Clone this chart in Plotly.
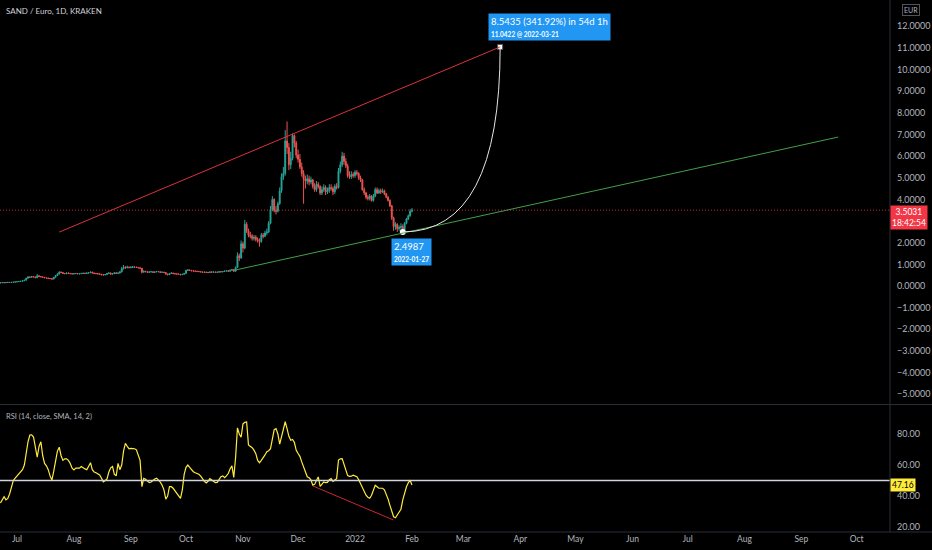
import pandas as pd
import plotly.graph_objects as go

# daily candles SAND / EUR (Kraken), 2021-06-22 .. 2022-02-01
dates = pd.date_range("2021-06-22", "2022-02-01", freq="D")

first_open = 0.15
close = [
    # Jun 22-30
    0.15, 0.16, 0.15, 0.16, 0.17, 0.16, 0.17, 0.18, 0.19,
    # Jul
    0.20, 0.21, 0.22, 0.24, 0.27, 0.36, 0.42, 0.40, 0.44, 0.42, 0.38, 0.47, 0.44, 0.42, 0.40, 0.38,
    0.37, 0.35, 0.34, 0.32, 0.40, 0.48, 0.55, 0.64, 0.62, 0.58, 0.57, 0.60, 0.58, 0.57, 0.56,
    # Aug
    0.57, 0.58, 0.56, 0.57, 0.58, 0.59, 0.58, 0.60, 0.61, 0.64, 0.60, 0.58, 0.57, 0.56, 0.54, 0.52,
    0.51, 0.53, 0.58, 0.60, 0.55, 0.57, 0.61, 0.58, 0.60, 0.65, 0.80, 0.86, 0.84, 0.87, 0.85,
    # Sep
    0.86, 0.88, 0.87, 0.86, 0.84, 0.82, 0.64, 0.68, 0.66, 0.63, 0.65, 0.66, 0.63, 0.65, 0.67,
    0.66, 0.63, 0.64, 0.62, 0.55, 0.52, 0.58, 0.60, 0.57, 0.56, 0.55, 0.54, 0.52, 0.54, 0.58,
    # Oct
    0.72, 0.74, 0.72, 0.70, 0.69, 0.68, 0.67, 0.66, 0.65, 0.63, 0.64, 0.63, 0.62, 0.65, 0.64, 0.65,
    0.63, 0.64, 0.66, 0.65, 0.67, 0.69, 0.70, 0.68, 0.73, 0.76, 0.68, 0.86, 1.40, 1.30, 1.95,
    # Nov
    1.75, 2.85, 2.55, 2.35, 2.30, 2.20, 2.25, 2.15, 2.10, 2.05, 2.35, 2.30, 2.45, 2.50, 2.90,
    3.55, 4.00, 3.50, 3.45, 3.80, 4.40, 5.05, 5.20, 6.70, 6.40, 5.60, 5.90, 6.95, 6.60, 6.05,
    # Dec
    5.85, 5.50, 5.20, 4.95, 4.85, 4.95, 4.80, 4.90, 4.60, 4.45, 4.70, 4.60, 4.30, 4.45, 4.55, 4.35,
    4.40, 4.55, 4.50, 4.35, 4.60, 4.55, 5.30, 5.60, 6.00, 5.75, 5.55, 5.10, 5.05, 5.15, 5.10,
    # Jan
    5.25, 5.20, 5.00, 4.90, 4.45, 4.30, 4.10, 4.05, 4.15, 3.95, 4.15, 4.45, 4.30, 4.40, 4.35, 4.40,
    4.25, 4.10, 3.95, 3.70, 3.15, 2.75, 2.85, 2.65, 2.70, 2.75, 2.60, 2.90, 3.10, 3.25, 3.45,
    # Feb 1
    3.5031,
]
high = [
    0.16, 0.17, 0.17, 0.17, 0.18, 0.18, 0.18, 0.19, 0.20,
    0.21, 0.22, 0.23, 0.25, 0.28, 0.38, 0.45, 0.44, 0.46, 0.45, 0.43, 0.55, 0.49, 0.46, 0.43, 0.41,
    0.39, 0.38, 0.36, 0.35, 0.42, 0.50, 0.58, 0.68, 0.67, 0.64, 0.60, 0.62, 0.62, 0.60, 0.59,
    0.59, 0.60, 0.60, 0.59, 0.60, 0.61, 0.61, 0.62, 0.63, 0.67, 0.66, 0.62, 0.60, 0.59, 0.58, 0.56,
    0.54, 0.55, 0.60, 0.63, 0.62, 0.59, 0.63, 0.63, 0.62, 0.68, 0.88, 0.97, 0.92, 0.94, 0.90,
    0.92, 0.93, 0.91, 0.89, 0.88, 0.86, 0.83, 0.71, 0.70, 0.68, 0.67, 0.68, 0.67, 0.67, 0.69,
    0.69, 0.67, 0.66, 0.65, 0.63, 0.57, 0.60, 0.63, 0.61, 0.59, 0.58, 0.57, 0.56, 0.56, 0.60,
    0.75, 0.78, 0.76, 0.74, 0.72, 0.71, 0.70, 0.69, 0.68, 0.67, 0.66, 0.66, 0.65, 0.67, 0.67, 0.67,
    0.66, 0.66, 0.68, 0.68, 0.69, 0.71, 0.73, 0.72, 0.75, 0.79, 0.77, 0.90, 1.55, 1.50, 2.10,
    2.05, 3.05, 2.95, 2.65, 2.50, 2.40, 2.35, 2.35, 2.25, 2.20, 2.45, 2.45, 2.55, 2.65, 3.00,
    3.70, 4.15, 4.05, 3.70, 3.90, 4.55, 5.20, 5.50, 7.20, 7.60, 6.60, 6.20, 7.05, 7.00, 6.70,
    6.30, 6.10, 5.70, 5.35, 5.10, 5.15, 5.10, 5.05, 4.95, 4.75, 4.85, 4.80, 4.65, 4.60, 4.70, 4.65,
    4.55, 4.70, 4.70, 4.60, 4.70, 4.75, 5.45, 5.75, 6.20, 6.15, 5.90, 5.65, 5.30, 5.30, 5.25,
    5.35, 5.35, 5.25, 5.10, 4.95, 4.55, 4.35, 4.20, 4.25, 4.20, 4.25, 4.55, 4.55, 4.50, 4.50, 4.50,
    4.45, 4.30, 4.15, 4.00, 3.75, 3.20, 2.95, 2.90, 2.80, 2.90, 2.85, 2.95, 3.15, 3.30, 3.55,
    3.60,
]
low = [
    0.14, 0.15, 0.14, 0.15, 0.15, 0.15, 0.16, 0.16, 0.17,
    0.18, 0.19, 0.20, 0.21, 0.23, 0.26, 0.34, 0.38, 0.39, 0.41, 0.37, 0.37, 0.42, 0.41, 0.39, 0.37,
    0.36, 0.34, 0.33, 0.30, 0.31, 0.39, 0.46, 0.53, 0.60, 0.56, 0.55, 0.55, 0.56, 0.55, 0.54,
    0.54, 0.55, 0.55, 0.54, 0.55, 0.56, 0.56, 0.56, 0.58, 0.60, 0.59, 0.57, 0.55, 0.54, 0.52, 0.50,
    0.49, 0.50, 0.52, 0.56, 0.53, 0.53, 0.55, 0.56, 0.56, 0.58, 0.63, 0.76, 0.80, 0.82, 0.82,
    0.82, 0.84, 0.85, 0.84, 0.82, 0.80, 0.58, 0.62, 0.64, 0.61, 0.62, 0.64, 0.61, 0.62, 0.64,
    0.64, 0.61, 0.62, 0.60, 0.53, 0.50, 0.51, 0.56, 0.56, 0.54, 0.53, 0.52, 0.50, 0.51, 0.53,
    0.57, 0.70, 0.71, 0.69, 0.68, 0.67, 0.66, 0.65, 0.64, 0.61, 0.62, 0.61, 0.60, 0.61, 0.62, 0.63,
    0.62, 0.62, 0.63, 0.64, 0.64, 0.66, 0.68, 0.66, 0.67, 0.71, 0.66, 0.67, 0.84, 1.15, 1.25,
    1.55, 1.70, 2.45, 2.25, 2.20, 2.10, 2.10, 2.05, 2.00, 1.82, 2.00, 2.20, 2.25, 2.35, 2.45,
    2.85, 3.45, 3.40, 3.30, 3.40, 3.75, 4.30, 4.90, 5.10, 6.10, 5.35, 5.40, 5.80, 6.40, 5.90,
    5.70, 5.40, 5.05, 3.80, 4.50, 4.70, 4.65, 4.70, 4.50, 4.35, 4.35, 4.50, 4.20, 4.20, 4.35, 4.20,
    4.25, 4.30, 4.40, 4.20, 4.25, 4.45, 4.50, 5.20, 5.50, 5.60, 5.45, 5.00, 4.95, 4.95, 5.00,
    5.00, 5.10, 4.90, 4.80, 4.40, 4.20, 4.00, 3.95, 3.95, 3.90, 3.90, 4.10, 4.25, 4.25, 4.25, 4.30,
    4.20, 4.05, 3.90, 3.65, 3.05, 2.55, 2.60, 2.50, 2.55, 2.60, 2.4987, 2.55, 2.85, 3.05, 3.20,
    3.40,
]
open_ = [first_open] + close[:-1]

# RSI (14, close)
rsi = [
    35.5, 38, 39.5, 37.5, 38.5, 41.5, 45, 50, 51.5,
    53, 54.5, 56, 57, 60, 69, 75, 79.3, 79.5, 78, 70, 65, 72, 75, 66, 61, 59.5, 57, 53, 50.3, 56,
    64, 69, 71.5, 66, 63, 64, 64, 63, 61, 58,
    56.8, 58, 58, 58, 59, 58, 57.5, 57, 59, 61.5, 57, 55.5, 55, 54.2, 53.6, 51.5, 49.2, 50, 51,
    55.5, 58.2, 59, 54, 53, 61, 57, 60, 69, 74, 72, 70.5,
    70.7, 70.7, 70.5, 69.8, 66, 63, 46, 51.4, 50.8, 49.8, 48.6, 49, 50.1, 51, 51.5, 50.3, 49, 47,
    44, 38, 40, 46, 46, 45, 43.5, 41.7, 40, 38.5, 44, 54,
    58.5, 60, 58.5, 57, 55.7, 55, 54.5, 54, 52.8, 51, 49.5, 48.5, 49.5, 51.2, 50.3, 49.1, 48.6,
    48.8, 50.5, 52.5, 53, 51.8, 53, 54.5, 57.5, 59.5, 52, 65, 84, 80, 78,
    86.5, 87.5, 87.8, 73, 72.3, 71.2, 69.6, 67.3, 63, 61.5, 63, 64.5, 66.5, 68.6, 69.2, 70.5, 78,
    82.8, 83.5, 80, 73.5, 78.5, 83.5, 87.9, 83.5, 78.5, 76, 76.5, 74.5, 69.5,
    67.4, 65.6, 62, 58.8, 55.5, 52.4, 51.8, 50.5, 47, 47.5, 50, 52.3, 46.2, 47.5, 49.1, 48.6, 48.8,
    50.5, 51.2, 49.5, 50.2, 51.2, 63.2, 64, 64.1, 60, 56, 53.2, 52.7, 52.8, 53.4,
    53, 52.4, 50.5, 47.8, 45.5, 43, 40.5, 39.2, 38.6, 40.5, 43.6, 47, 46, 45, 45, 45, 44, 41.5, 38,
    34, 30, 26.6, 26, 27.8, 29, 31.5, 37.5, 42.5, 46, 48.5, 50.2,
    47.16,
]

# drawings on the chart
red_line_x = ["2021-07-24", "2022-03-21"]
red_line_y = [2.49, 11.0422]
green_line_x = ["2021-10-28", "2022-09-21"]
green_line_y = [0.74, 6.88]
rsi_div_x = ["2021-12-09", "2022-01-22"]
rsi_div_y = [46.5, 24.5]
rsi_level = 50
fc_x = ["2022-01-27", "2022-03-21"]
fc_y = [2.4987, 11.0422]
last_price = 3.5031
last_rsi = 47.16

month_ticks = ["2021-07-01", "2021-08-01", "2021-09-01", "2021-10-01", "2021-11-01", "2021-12-01",
               "2022-01-01", "2022-02-01", "2022-03-01", "2022-04-01", "2022-05-01", "2022-06-01",
               "2022-07-01", "2022-08-01", "2022-09-01", "2022-10-01"]
month_text = ["Jul", "Aug", "Sep", "Oct", "Nov", "Dec", "2022", "Feb", "Mar", "Apr", "May", "Jun",
              "Jul", "Aug", "Sep", "Oct"]
# 3.0000 sits under the last-price tag, so it is not shown
price_ticks = [-5, -4, -3, -2, -1, 0, 1, 2, 4, 5, 6, 7, 8, 9, 10, 11, 12, 13]
rsi_ticks = [20, 40, 60, 80]

UP, DOWN = "#26a69a", "#ef5350"
GRID = "#2a2e39"
TXT = "#b2b5be"
FONT = "Lato, sans-serif"
x_range = ["2021-06-21 18:00", "2022-10-19 05:00"]

fig = go.Figure()
fig.add_trace(go.Candlestick(
    x=dates, open=open_, high=high, low=low, close=close,
    increasing=dict(line=dict(color=UP, width=1), fillcolor=UP),
    decreasing=dict(line=dict(color=DOWN, width=1), fillcolor=DOWN),
    whiskerwidth=0, xaxis="x", yaxis="y", hoverinfo="skip",
))
fig.add_trace(go.Scatter(
    x=dates, y=rsi, mode="lines", line=dict(color="#ffeb3b", width=1.2),
    xaxis="x2", yaxis="y2", hoverinfo="skip",
))
# forecast start / target markers
fig.add_trace(go.Scatter(
    x=[fc_x[0]], y=[fc_y[0]], mode="markers",
    marker=dict(color="white", size=6), xaxis="x", yaxis="y", hoverinfo="skip",
))
fig.add_trace(go.Scatter(
    x=[fc_x[1]], y=[fc_y[1]], mode="markers",
    marker=dict(color="white", size=5, symbol="square", line=dict(color="#555", width=1)),
    xaxis="x", yaxis="y", hoverinfo="skip",
))

shapes = [
    dict(type="line", xref="x", yref="y", x0=red_line_x[0], y0=red_line_y[0],
         x1=red_line_x[1], y1=red_line_y[1], line=dict(color="#d8343c", width=1)),
    dict(type="line", xref="x", yref="y", x0=green_line_x[0], y0=green_line_y[0],
         x1=green_line_x[1], y1=green_line_y[1], line=dict(color="#43a047", width=1)),
    dict(type="line", xref="paper", yref="y", x0=0, x1=1, y0=last_price, y1=last_price,
         opacity=0.8, line=dict(color="#f23645", width=1, dash="1px,2px")),
    dict(type="path", xref="x", yref="y",
         path=f"M{fc_x[0]},{fc_y[0]} Q{fc_x[1]},{fc_y[0]} {fc_x[1]},{fc_y[1]}",
         line=dict(color="#e6e6e6", width=1)),
    dict(type="line", xref="paper", yref="y2", x0=0, x1=1, y0=rsi_level, y1=rsi_level,
         line=dict(color="#d1d4dc", width=1.5)),
    dict(type="line", xref="x2", yref="y2", x0=rsi_div_x[0], y0=rsi_div_y[0],
         x1=rsi_div_x[1], y1=rsi_div_y[1], line=dict(color="#c62833", width=1)),
    # pane separators
    dict(type="line", xref="paper", yref="paper", x0=0, x1=1.05, y0=0.2396, y1=0.2396,
         line=dict(color=GRID, width=1)),
    dict(type="line", xref="paper", yref="paper", x0=0, x1=1.05, y0=0, y1=0,
         line=dict(color=GRID, width=1)),
    dict(type="line", xref="paper", yref="paper", x0=1, x1=1, y0=0, y1=1,
         line=dict(color=GRID, width=1)),
]

annotations = [
    dict(text="SAND / Euro, 1D, KRAKEN", xref="paper", yref="paper", x=0.005, y=1,
         xanchor="left", yanchor="top", yshift=-4, showarrow=False,
         font=dict(size=8, color="#d1d4dc", family=FONT)),
    dict(text="RSI (14, close, SMA, 14, 2)", xref="paper", yref="y2 domain", x=0.005, y=1,
         xanchor="left", yanchor="top", yshift=-5, showarrow=False,
         font=dict(size=7.5, color=TXT, family=FONT)),
    dict(text=f"{last_price:.4f}<br>18:42:54", xref="paper", yref="y", x=1, y=last_price,
         xanchor="left", yanchor="top", yshift=5, showarrow=False, bgcolor="#f23645",
         borderpad=1, font=dict(size=8.5, color="white", family=FONT)),
    dict(text=f"{last_rsi:.2f}", xref="paper", yref="y2", x=1, y=last_rsi,
         xanchor="left", yanchor="middle", showarrow=False, bgcolor="#ffeb3b",
         borderpad=1, font=dict(size=8.5, color="black", family=FONT)),
    dict(text="EUR", xref="paper", yref="paper", x=1, y=1, xanchor="left", yanchor="top",
         xshift=12, yshift=-4, showarrow=False, bgcolor="black", bordercolor="#50535e",
         borderwidth=1, borderpad=1, font=dict(size=7, color=TXT, family=FONT)),
    dict(text="8.5435 (341.92%) in 54d 1h<br><span style='font-size:6.5px'><b>11.0422 @ 2022-03-21</b></span>",
         xref="x", yref="y", x=fc_x[1], y=fc_y[1], xanchor="left", yanchor="bottom",
         xshift=-12, yshift=6, showarrow=False, align="left", bgcolor="#2196f3", borderpad=2,
         font=dict(size=9.5, color="white", family=FONT)),
    dict(text="2.4987<br><span style='font-size:6.5px'><b>2022-01-27</b></span>",
         xref="x", yref="y", x=fc_x[0], y=fc_y[0], xanchor="left", yanchor="top",
         xshift=-12, yshift=-6, showarrow=False, align="left", bgcolor="#2196f3", borderpad=2,
         font=dict(size=9.5, color="white", family=FONT)),
]

fig.update_layout(
    width=932, height=550,
    margin=dict(l=0, r=42, t=0, b=18),
    paper_bgcolor="black", plot_bgcolor="black",
    showlegend=False,
    font=dict(family=FONT, color=TXT, size=9),
    shapes=shapes, annotations=annotations,
    xaxis=dict(domain=[0, 1], anchor="y", type="date", range=x_range, showgrid=False,
               zeroline=False, showticklabels=False, rangeslider=dict(visible=False)),
    xaxis2=dict(domain=[0, 1], anchor="y2", type="date", range=x_range, matches="x",
                showgrid=False, zeroline=False, tickvals=month_ticks, ticktext=month_text,
                ticks="", tickfont=dict(size=8.5, color=TXT)),
    yaxis=dict(domain=[0.2406, 1], side="right", range=[-5.45, 13.21], showgrid=False,
               zeroline=False, tickvals=price_ticks, tickformat=".4f", ticks="",
               ticklabelstandoff=6, tickfont=dict(size=9, color=TXT)),
    yaxis2=dict(domain=[0, 0.2387], side="right", range=[16.8, 98.7], showgrid=False,
                zeroline=False, tickvals=rsi_ticks, tickformat=".2f", ticks="",
                ticklabelstandoff=6, tickfont=dict(size=9, color=TXT)),
)

fig.write_html("out.html", config={"displayModeBar": False},
               post_script="document.body.style.margin='0';document.body.style.background='#000';")
